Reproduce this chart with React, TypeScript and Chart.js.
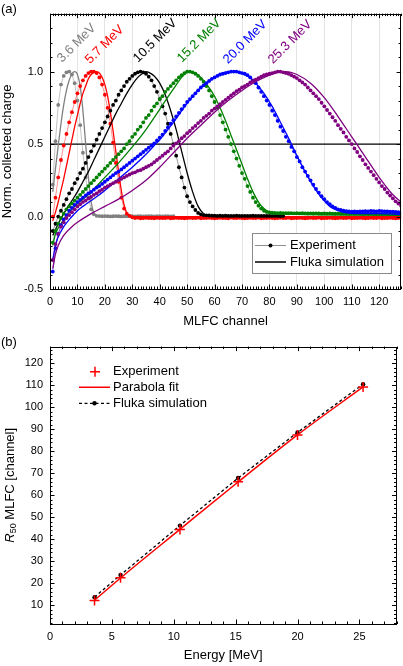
import React, { useEffect, useRef } from 'react';
import { Chart, registerables } from 'chart.js';

Chart.register(...registerables);

const FONT = '"Liberation Sans", Arial, Helvetica, sans-serif';
Chart.defaults.font.family = FONT;

// ---------------- Panel (a) data ----------------
const ENERGY_LABELS = ['3.6 MeV', '5.7 MeV', '10.5 MeV', '15.2 MeV', '20.0 MeV', '25.3 MeV'];
const SERIES_COLORS = ['#808080', '#ff0000', '#000000', '#008000', '#0000ff', '#800080'];
const LINE_COLORS = ['rgba(128,128,128,0.6)', 'rgba(255,0,0,0.55)', 'rgba(0,0,0,0.5)', 'rgba(0,128,0,0.55)', 'rgba(0,0,255,0.55)', 'rgba(128,0,128,0.55)'];
const LABEL_ANCHORS = [[4.4, 1.06], [14.6, 1.05], [32.1, 1.06], [48.1, 1.06], [64.9, 1.05], [81.3, 1.05]];
const HALF_LEVEL = 0.5;
const TOP_LEGEND = ['Experiment', 'Fluka simulation'];

// experiment: one value per MLFC channel, starting at channel 1
const EXP_36 = [
  0.22, 0.52, 0.77, 0.91, 0.97, 0.995, 1.0, 0.98, 0.92, 0.80,
  0.63, 0.44, 0.27, 0.13, 0.05, 0.015, 0.005, 0.003, 0.002, 0.003,
  0.002, 0.001, 0.002, 0.003, 0.002, 0.001, 0.002, 0.002, 0.003, 0.002,
  0.001, 0.002, 0.002, 0.001, 0.002, 0.003, 0.002, 0.001, 0.002, 0.002,
  0.001, 0.002, 0.002, 0.001, 0.002,
];
const EXP_57 = [
  0.0, 0.13, 0.27, 0.39, 0.49, 0.57, 0.65, 0.72, 0.79, 0.85,
  0.9, 0.94, 0.97, 0.99, 1.0, 1.0, 0.99, 0.96, 0.91, 0.84,
  0.75, 0.64, 0.51, 0.37, 0.24, 0.13, 0.055, 0.02, 0.005, -0.005,
  -0.01, -0.008, -0.012, -0.01, -0.009, -0.011, -0.01, -0.012, -0.009, -0.01,
  -0.011, -0.01, -0.008, -0.012, -0.01, -0.009, -0.011, -0.01, -0.012, -0.01,
  -0.009, -0.011, -0.01, -0.008, -0.012, -0.01, -0.011, -0.009, -0.01, -0.012,
  -0.01, -0.009, -0.011, -0.01, -0.012, -0.008, -0.01, -0.011, -0.009, -0.01,
  -0.012, -0.01, -0.009, -0.011, -0.01, -0.008, -0.012, -0.01, -0.011, -0.009,
  -0.01, -0.012, -0.01, -0.009, -0.011, -0.01, -0.008, -0.012, -0.01, -0.011,
  -0.009, -0.01, -0.012, -0.01, -0.009, -0.011, -0.01, -0.008, -0.012, -0.01,
  -0.011, -0.009, -0.01, -0.012, -0.01, -0.009, -0.011, -0.01, -0.008, -0.012,
  -0.01, -0.011, -0.009, -0.01, -0.012, -0.01, -0.009, -0.011, -0.01, -0.008,
  -0.012, -0.01, -0.011, -0.009, -0.01, -0.012, -0.01, -0.009,
];
const EXP_105 = [
  -0.1, -0.05, 0.0, 0.04, 0.08, 0.12, 0.16, 0.19, 0.23, 0.26,
  0.3, 0.33, 0.37, 0.41, 0.45, 0.49, 0.53, 0.57, 0.61, 0.65,
  0.69, 0.73, 0.77, 0.8, 0.84, 0.87, 0.9, 0.93, 0.95, 0.97,
  0.985, 0.995, 1.0, 0.995, 0.985, 0.965, 0.94, 0.9, 0.86, 0.81,
  0.76, 0.71, 0.64, 0.57, 0.5, 0.42, 0.34, 0.27, 0.2, 0.14,
  0.1, 0.07, 0.045, 0.025, 0.015, 0.01, 0.008, 0.007, 0.006, 0.006,
  0.005, 0.006, 0.005, 0.006, 0.005, 0.004, 0.005, 0.006, 0.005, 0.004,
  0.005, 0.004, 0.005, 0.006, 0.004, 0.005, 0.004, 0.005, 0.004, 0.005,
  0.004, 0.005, 0.004, 0.003, 0.004,
];
const EXP_152 = [
  -0.18, -0.1, -0.05, -0.01, 0.02, 0.05, 0.07, 0.09, 0.11, 0.13,
  0.15, 0.17, 0.19, 0.21, 0.23, 0.25, 0.27, 0.29, 0.31, 0.33,
  0.35, 0.37, 0.39, 0.41, 0.43, 0.45, 0.47, 0.5, 0.52, 0.55,
  0.57, 0.6, 0.62, 0.65, 0.68, 0.7, 0.73, 0.76, 0.78, 0.81,
  0.83, 0.86, 0.88, 0.9, 0.92, 0.94, 0.96, 0.975, 0.99, 1.0,
  1.0, 0.995, 0.985, 0.97, 0.95, 0.93, 0.9, 0.87, 0.83, 0.79,
  0.75, 0.7, 0.65, 0.6, 0.55, 0.5, 0.45, 0.4, 0.35, 0.3,
  0.26, 0.21, 0.17, 0.13, 0.1, 0.075, 0.055, 0.04, 0.032, 0.028,
  0.026, 0.025, 0.024, 0.025, 0.024, 0.023, 0.024, 0.023, 0.022, 0.023,
  0.022, 0.023, 0.022, 0.021, 0.022, 0.021, 0.022, 0.021, 0.02, 0.021,
  0.02, 0.021, 0.02, 0.019, 0.02, 0.019, 0.02, 0.019, 0.018, 0.019,
  0.018, 0.019, 0.018, 0.017, 0.018, 0.017, 0.018, 0.017, 0.016, 0.017,
  0.016, 0.017, 0.016, 0.015, 0.016, 0.015, 0.016, 0.015,
];
const EXP_200 = [
  -0.38, -0.22, -0.12, -0.06, -0.02, 0.01, 0.04, 0.06, 0.08, 0.1,
  0.115, 0.13, 0.145, 0.16, 0.17, 0.185, 0.2, 0.21, 0.225, 0.24,
  0.255, 0.27, 0.285, 0.3, 0.31, 0.325, 0.34, 0.355, 0.37, 0.385,
  0.4, 0.415, 0.43, 0.445, 0.46, 0.475, 0.49, 0.505, 0.525, 0.545,
  0.565, 0.59, 0.615, 0.64, 0.665, 0.69, 0.715, 0.74, 0.765, 0.79,
  0.81, 0.83, 0.85, 0.87, 0.89, 0.905, 0.92, 0.935, 0.95, 0.96,
  0.97, 0.98, 0.985, 0.99, 0.995, 1.0, 1.0, 1.0, 0.995, 0.99,
  0.985, 0.975, 0.96, 0.94, 0.92, 0.89, 0.86, 0.83, 0.8, 0.77,
  0.73, 0.7, 0.66, 0.62, 0.59, 0.55, 0.52, 0.48, 0.45, 0.41,
  0.38, 0.34, 0.31, 0.28, 0.25, 0.22, 0.19, 0.165, 0.14, 0.12,
  0.1, 0.085, 0.07, 0.06, 0.05, 0.045, 0.04, 0.037, 0.035, 0.034,
  0.035, 0.034, 0.036, 0.035, 0.037, 0.036, 0.038, 0.037, 0.036, 0.038,
  0.037, 0.036, 0.035, 0.034, 0.033, 0.032, 0.03, 0.029,
];
const EXP_253 = [
  -0.3, -0.19, -0.12, -0.07, -0.04, -0.01, 0.01, 0.03, 0.05, 0.07,
  0.085, 0.1, 0.11, 0.125, 0.135, 0.15, 0.16, 0.175, 0.185, 0.2,
  0.21, 0.22, 0.23, 0.24, 0.25, 0.26, 0.27, 0.28, 0.29, 0.3,
  0.305, 0.315, 0.32, 0.33, 0.34, 0.35, 0.36, 0.375, 0.39, 0.405,
  0.42, 0.435, 0.45, 0.47, 0.49, 0.505, 0.52, 0.54, 0.555, 0.575,
  0.59, 0.61, 0.625, 0.645, 0.66, 0.68, 0.695, 0.71, 0.73, 0.745,
  0.76, 0.775, 0.79, 0.805, 0.82, 0.835, 0.85, 0.865, 0.875, 0.89,
  0.9, 0.91, 0.925, 0.935, 0.945, 0.955, 0.965, 0.975, 0.98, 0.985,
  0.99, 0.995, 1.0, 1.0, 0.995, 0.99, 0.985, 0.975, 0.965, 0.955,
  0.94, 0.925, 0.91, 0.89, 0.87, 0.85, 0.83, 0.81, 0.785, 0.76,
  0.735, 0.71, 0.685, 0.66, 0.63, 0.605, 0.58, 0.55, 0.525, 0.5,
  0.47, 0.445, 0.415, 0.39, 0.36, 0.335, 0.31, 0.285, 0.26, 0.235,
  0.21, 0.19, 0.165, 0.145, 0.125, 0.105, 0.09, 0.075,
];

// Fluka simulation: [channel, value]
const SIM_36 = [
  [1, 0.17], [2, 0.33], [3, 0.49], [4, 0.64], [5, 0.77], [6, 0.87], [7, 0.94], [8, 0.985], [9, 1.0], [10, 0.98],
  [11, 0.9], [12, 0.73], [13, 0.5], [14, 0.27], [15, 0.1], [16, 0.025], [17, 0.005], [20, 0.0], [30, 0.0], [45, 0.0],
];
const SIM_57 = [
  [1, -0.03], [2, 0.03], [3, 0.1], [4, 0.18], [5, 0.26], [6, 0.35], [7, 0.44], [8, 0.53], [9, 0.62], [10, 0.7],
  [11, 0.78], [12, 0.85], [13, 0.9], [14, 0.95], [15, 0.98], [16, 0.995], [17, 1.0], [18, 0.99], [19, 0.96], [20, 0.91],
  [21, 0.83], [22, 0.72], [23, 0.59], [24, 0.45], [25, 0.31], [26, 0.18], [27, 0.08], [28, 0.025], [29, 0.005], [30, 0.0], [128, 0.0],
];
const SIM_105 = [
  [1, -0.13], [3, -0.05], [5, 0.02], [8, 0.11], [10, 0.17], [12, 0.24], [14, 0.31], [16, 0.39], [18, 0.47], [20, 0.55],
  [22, 0.63], [24, 0.71], [26, 0.78], [28, 0.85], [30, 0.91], [32, 0.96], [34, 0.99], [35, 1.0], [36, 0.995], [38, 0.97],
  [40, 0.92], [42, 0.84], [44, 0.73], [46, 0.6], [48, 0.45], [50, 0.3], [52, 0.17], [54, 0.07], [56, 0.02], [58, 0.005], [60, 0.0], [85, 0.0],
];
const SIM_152 = [
  [1, -0.2], [2, -0.12], [4, -0.05], [6, 0.01], [8, 0.05], [10, 0.09], [12, 0.12], [15, 0.17], [20, 0.27], [25, 0.37],
  [30, 0.48], [35, 0.6], [40, 0.74], [45, 0.88], [48, 0.96], [50, 0.995], [51, 1.0], [53, 0.99], [55, 0.96], [58, 0.89],
  [60, 0.83], [62, 0.75], [64, 0.66], [66, 0.56], [68, 0.46], [70, 0.36], [72, 0.26], [74, 0.17], [76, 0.1], [78, 0.055],
  [80, 0.03], [82, 0.02], [90, 0.015], [100, 0.012], [128, 0.01],
];
const SIM_200 = [
  [1, -0.3], [2, -0.2], [3, -0.14], [5, -0.07], [8, 0.0], [10, 0.04], [12, 0.07], [15, 0.11], [20, 0.18], [25, 0.26],
  [30, 0.34], [35, 0.43], [38, 0.49], [40, 0.53], [45, 0.65], [50, 0.78], [55, 0.89], [60, 0.96], [63, 0.99], [66, 1.0],
  [69, 0.995], [72, 0.97], [75, 0.92], [78, 0.85], [81, 0.76], [84, 0.65], [87, 0.54], [90, 0.42], [93, 0.31], [96, 0.21],
  [99, 0.13], [102, 0.07], [105, 0.04], [108, 0.025], [112, 0.02], [120, 0.02], [128, 0.015],
];
const SIM_253 = [
  [1, -0.36], [2, -0.26], [3, -0.2], [5, -0.13], [8, -0.07], [10, -0.04], [15, 0.02], [20, 0.07], [25, 0.12], [30, 0.18],
  [35, 0.25], [40, 0.34], [45, 0.44], [47, 0.48], [50, 0.54], [55, 0.63], [60, 0.72], [65, 0.8], [70, 0.87], [75, 0.93],
  [80, 0.975], [83, 0.995], [86, 1.0], [90, 0.98], [95, 0.92], [100, 0.82], [105, 0.69], [110, 0.55], [115, 0.41], [120, 0.27],
  [125, 0.15], [128, 0.1],
];

const EXP_SERIES = [EXP_36, EXP_57, EXP_105, EXP_152, EXP_200, EXP_253];
const SIM_SERIES = [SIM_36, SIM_57, SIM_105, SIM_152, SIM_200, SIM_253];

// ---------------- Panel (b) data ----------------
const ENERGY = [3.6, 5.7, 10.5, 15.2, 20.0, 25.3];
const R50_EXP = [12.2, 22.5, 44.4, 66.1, 87.4, 109.1];
const R50_FIT = [12.3, 22.4, 44.5, 66.0, 87.4, 109.2];
const R50_SIM = [13.7, 23.8, 46.2, 67.8, 88.5, 110.4];
const BOTTOM_LEGEND = ['Experiment', 'Parabola fit', 'Fluka simulation'];

// ---------------- helpers ----------------
const toXY = (arr: number[]) => arr.map((v, i) => ({ x: i + 1, y: v }));
const pairs = (arr: number[][]) => arr.map(([x, y]) => ({ x, y }));
const zip = (xs: number[], ys: number[]) => xs.map((x, i) => ({ x, y: ys[i] }));

const framePlugin = {
  id: 'frameTicks',
  afterDatasetsDraw(chart: any, _args: any, opts: any) {
    const { ctx, chartArea: a } = chart;
    const xs = chart.scales.x;
    const ys = chart.scales.y;
    ctx.save();
    ctx.strokeStyle = '#000';
    ctx.lineWidth = 1;
    ctx.beginPath();
    const isMajor = (v: number, m: number) => Math.abs(v / m - Math.round(v / m)) < 1e-6;
    for (let k = Math.ceil(xs.min / opts.xMinor - 1e-9); k * opts.xMinor <= xs.max + 1e-9; k++) {
      const v = k * opts.xMinor;
      const px = Math.round(xs.getPixelForValue(v)) + 0.5;
      const len = isMajor(v, opts.xMajor) ? 4.5 : 2.5;
      ctx.moveTo(px, a.bottom);
      ctx.lineTo(px, a.bottom - len);
      ctx.moveTo(px, a.top);
      ctx.lineTo(px, a.top + len);
    }
    for (let k = Math.ceil(ys.min / opts.yMinor - 1e-9); k * opts.yMinor <= ys.max + 1e-9; k++) {
      const v = k * opts.yMinor;
      const py = Math.round(ys.getPixelForValue(v)) + 0.5;
      const len = isMajor(v, opts.yMajor) ? 4.5 : 2.5;
      ctx.moveTo(a.left, py);
      ctx.lineTo(a.left + len, py);
      ctx.moveTo(a.right, py);
      ctx.lineTo(a.right - len, py);
    }
    ctx.stroke();
    ctx.strokeRect(Math.round(a.left) + 0.5, Math.round(a.top) + 0.5, Math.round(a.right - a.left) - 1, Math.round(a.bottom - a.top));
    ctx.font = `13px ${FONT}`;
    ctx.fillStyle = '#000';
    ctx.textBaseline = 'middle';
    ctx.textAlign = 'left';
    ctx.fillText(opts.panel, 1, 9);
    ctx.restore();
  },
};

const topDecorPlugin = {
  id: 'topDecor',
  afterDatasetsDraw(chart: any) {
    const { ctx } = chart;
    const xs = chart.scales.x;
    const ys = chart.scales.y;
    ctx.save();
    ctx.font = `13px ${FONT}`;
    ctx.textBaseline = 'alphabetic';
    ctx.textAlign = 'left';
    ENERGY_LABELS.forEach((lab, i) => {
      const px = xs.getPixelForValue(LABEL_ANCHORS[i][0]);
      const py = ys.getPixelForValue(LABEL_ANCHORS[i][1]);
      ctx.save();
      ctx.translate(px, py);
      ctx.rotate(-Math.PI / 4);
      ctx.fillStyle = SERIES_COLORS[i];
      ctx.fillText(lab, 0, 0);
      ctx.restore();
    });
    // legend box
    const L = 252, T = 233, W = 139, H = 40;
    ctx.fillStyle = '#fff';
    ctx.fillRect(L, T, W, H);
    ctx.strokeStyle = '#8a8a8a';
    ctx.lineWidth = 1;
    ctx.strokeRect(L + 0.5, T + 0.5, W, H);
    const r1 = 245.5, r2 = 262;
    ctx.strokeStyle = '#808080';
    ctx.lineWidth = 0.9;
    ctx.beginPath();
    ctx.moveTo(255, r1);
    ctx.lineTo(286, r1);
    ctx.stroke();
    ctx.fillStyle = '#000';
    ctx.beginPath();
    ctx.arc(270.5, r1, 2, 0, Math.PI * 2);
    ctx.fill();
    ctx.strokeStyle = '#000';
    ctx.lineWidth = 1.5;
    ctx.beginPath();
    ctx.moveTo(255, r2);
    ctx.lineTo(286, r2);
    ctx.stroke();
    ctx.font = `13px ${FONT}`;
    ctx.textBaseline = 'middle';
    ctx.fillText(TOP_LEGEND[0], 290, r1);
    ctx.fillText(TOP_LEGEND[1], 290, r2);
    ctx.restore();
  },
};

const bottomDecorPlugin = {
  id: 'bottomDecor',
  afterDatasetsDraw(chart: any) {
    const { ctx, chartArea: a } = chart;
    ctx.save();
    // legend
    const rows = [38.7, 54.3, 70.3];
    ctx.strokeStyle = '#ff0000';
    ctx.lineWidth = 1.5;
    ctx.beginPath();
    ctx.moveTo(90, rows[0]);
    ctx.lineTo(100, rows[0]);
    ctx.moveTo(95, rows[0] - 5);
    ctx.lineTo(95, rows[0] + 5);
    ctx.moveTo(79, rows[1]);
    ctx.lineTo(110, rows[1]);
    ctx.stroke();
    ctx.strokeStyle = '#000';
    ctx.lineWidth = 1.3;
    ctx.setLineDash([3, 2.5]);
    ctx.beginPath();
    ctx.moveTo(79, rows[2]);
    ctx.lineTo(110, rows[2]);
    ctx.stroke();
    ctx.setLineDash([]);
    ctx.fillStyle = '#000';
    ctx.beginPath();
    ctx.arc(94.5, rows[2], 2.2, 0, Math.PI * 2);
    ctx.fill();
    ctx.font = `13px ${FONT}`;
    ctx.textBaseline = 'middle';
    ctx.textAlign = 'left';
    BOTTOM_LEGEND.forEach((t, i) => ctx.fillText(t, 113, rows[i]));
    // y title: R50 MLFC [channel]
    const cy = (a.top + a.bottom) / 2;
    const fMain = `13px ${FONT}`;
    const fItal = `italic 13px ${FONT}`;
    const fSub = `9px ${FONT}`;
    ctx.font = fItal;
    const wR = ctx.measureText('R').width;
    ctx.font = fSub;
    const wS = ctx.measureText('50').width;
    ctx.font = fMain;
    const wM = ctx.measureText(' MLFC [channel]').width;
    const total = wR + wS + wM;
    ctx.translate(10, cy);
    ctx.rotate(-Math.PI / 2);
    let x0 = -total / 2;
    ctx.font = fItal;
    ctx.fillText('R', x0, 0);
    x0 += wR;
    ctx.font = fSub;
    ctx.fillText('50', x0, 3.5);
    x0 += wS;
    ctx.font = fMain;
    ctx.fillText(' MLFC [channel]', x0, 0);
    ctx.restore();
  },
};

function TopChart() {
  const ref = useRef<HTMLCanvasElement>(null);
  useEffect(() => {
    if (!ref.current) return;
    const layers: any[] = [
      {
        data: [{ x: 0, y: HALF_LEVEL }, { x: 128, y: HALF_LEVEL }],
        showLine: true,
        borderColor: '#000',
        borderWidth: 1.3,
        pointRadius: 0,
      },
    ];
    EXP_SERIES.forEach((arr, i) => {
      layers.push({
        data: toXY(arr),
        showLine: true,
        borderColor: LINE_COLORS[i],
        borderWidth: 0.8,
        pointRadius: 1.9,
        pointBorderWidth: 0,
        pointBackgroundColor: SERIES_COLORS[i],
        pointHoverRadius: 1.9,
      });
      layers.push({
        data: pairs(SIM_SERIES[i]),
        showLine: true,
        borderColor: SERIES_COLORS[i],
        borderWidth: 1.3,
        pointRadius: 0,
        tension: 0.4,
        cubicInterpolationMode: 'monotone',
      });
    });
    const chart = new Chart(ref.current, {
      type: 'scatter',
      data: { datasets: layers.slice().reverse() },
      options: {
        responsive: false,
        animation: false,
        events: [],
        layout: { padding: { top: 6, right: 1, left: 0, bottom: 0 } },
        plugins: {
          legend: { display: false },
          tooltip: { enabled: false },
          frameTicks: { xMinor: 1, xMajor: 10, yMinor: 0.1, yMajor: 0.5, panel: '(a)' },
        } as any,
        scales: {
          x: {
            type: 'linear',
            min: 0,
            max: 128,
            afterFit: (s: any) => { s.height = 44; },
            afterBuildTicks: (s: any) => { s.ticks = s.ticks.filter((t: any) => Math.abs(t.value % 10) < 1e-9); },
            ticks: { stepSize: 10, includeBounds: false, padding: 6, color: '#000', font: { family: FONT, size: 11 }, maxRotation: 0, autoSkip: false },
            grid: { color: '#e4e4e4', lineWidth: 1, drawTicks: false },
            border: { display: false },
            title: { display: true, text: 'MLFC channel', color: '#000', font: { family: FONT, size: 13 }, padding: { top: 0, bottom: 3.5 } },
          },
          y: {
            type: 'linear',
            min: -0.5,
            max: 1.4,
            afterFit: (s: any) => { s.width = 50; },
            afterBuildTicks: (s: any) => { s.ticks = s.ticks.filter((t: any) => Math.abs(t.value * 2 - Math.round(t.value * 2)) < 1e-9); },
            ticks: { stepSize: 0.5, includeBounds: false, padding: 7, color: '#000', font: { family: FONT, size: 11 }, callback: (v: any) => Number(v).toFixed(1) },
            grid: { display: false, drawTicks: false },
            border: { display: false },
            title: { display: true, text: 'Norm. collected charge', color: '#000', font: { family: FONT, size: 13 }, padding: { top: 0, bottom: 0 } },
          },
        },
      },
      plugins: [framePlugin, topDecorPlugin],
    });
    return () => chart.destroy();
  }, []);
  return <canvas ref={ref} width={403} height={333} style={{ display: 'block', width: 403, height: 333 }} />;
}

function BottomChart() {
  const ref = useRef<HTMLCanvasElement>(null);
  useEffect(() => {
    if (!ref.current) return;
    const chart = new Chart(ref.current, {
      type: 'scatter',
      data: {
        datasets: [
          {
            label: 'Experiment',
            data: zip(ENERGY, R50_EXP),
            showLine: false,
            pointStyle: 'cross',
            pointRadius: 5,
            pointBorderWidth: 1.5,
            pointBorderColor: '#ff0000',
            pointBackgroundColor: '#ff0000',
            borderColor: '#ff0000',
          },
          {
            label: 'Parabola fit',
            data: zip(ENERGY, R50_FIT),
            showLine: true,
            borderColor: '#ff0000',
            borderWidth: 1.5,
            pointRadius: 0,
            tension: 0.4,
            cubicInterpolationMode: 'monotone',
          },
          {
            label: 'Fluka simulation',
            data: zip(ENERGY, R50_SIM),
            showLine: true,
            borderColor: '#000',
            borderWidth: 1.3,
            borderDash: [3, 2.5],
            pointRadius: 2.2,
            pointBorderWidth: 0,
            pointBackgroundColor: '#000',
          },
        ] as any,
      },
      options: {
        responsive: false,
        animation: false,
        events: [],
        layout: { padding: { top: 10, right: 1, left: 0, bottom: 0 } },
        plugins: {
          legend: { display: false },
          tooltip: { enabled: false },
          frameTicks: { xMinor: 1, xMajor: 5, yMinor: 2, yMajor: 10, panel: '(b)' },
        } as any,
        scales: {
          x: {
            type: 'linear',
            min: 0,
            max: 28,
            afterFit: (s: any) => { s.height = 42; },
            afterBuildTicks: (s: any) => { s.ticks = s.ticks.filter((t: any) => Math.abs(t.value % 5) < 1e-9); },
            ticks: { stepSize: 5, includeBounds: false, padding: 6, color: '#000', font: { family: FONT, size: 11 }, maxRotation: 0, autoSkip: false },
            grid: { display: false, drawTicks: false },
            border: { display: false },
            title: { display: true, text: 'Energy [MeV]', color: '#000', font: { family: FONT, size: 13 }, padding: { top: 0, bottom: 3 } },
          },
          y: {
            type: 'linear',
            min: 1.5,
            max: 127.5,
            afterFit: (s: any) => { s.width = 50; },
            afterBuildTicks: (s: any) => { s.ticks = s.ticks.filter((t: any) => t.value >= 10 && Math.abs(t.value % 10) < 1e-9); },
            ticks: { stepSize: 10, includeBounds: false, padding: 7, color: '#000', font: { family: FONT, size: 11 } },
            grid: { display: false, drawTicks: false },
            border: { display: false },
            title: { display: false },
          },
        },
      },
      plugins: [framePlugin, bottomDecorPlugin],
    });
    return () => chart.destroy();
  }, []);
  return <canvas ref={ref} width={403} height={333} style={{ display: 'block', width: 403, height: 333 }} />;
}

export default function App() {
  return (
    <div style={{ position: 'absolute', left: 0, top: 0, width: 403, height: 666, background: '#fff' }}>
      <TopChart />
      <BottomChart />
    </div>
  );
}
